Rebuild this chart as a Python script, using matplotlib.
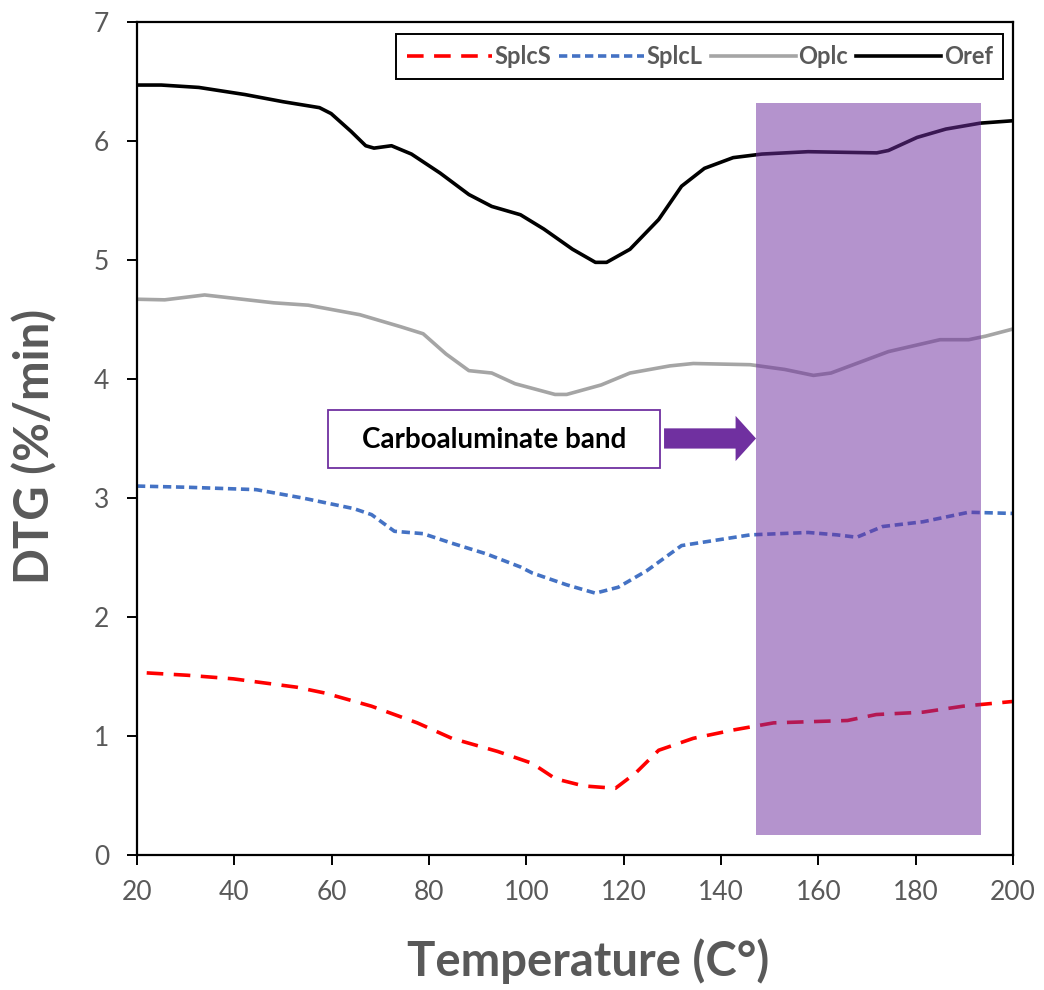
import matplotlib
matplotlib.use("Agg")
from matplotlib import pyplot as plt
from matplotlib.patches import Rectangle, FancyArrow

plt.rcParams['font.family'] = ['Lato', 'DejaVu Sans']

# Oref (black)
oref_x = [20, 25, 32.7, 42.2, 50, 57.5, 59.9, 64, 67, 68.7, 72.3, 76.4, 82.3, 88.2, 92.9, 98.8,
          103.6, 109.5, 114.2, 116.5, 121.3, 127.2, 131.9, 136.6, 142.5, 148.4, 157.9, 172, 174.4,
          180.3, 186.2, 193.3, 200]
oref_y = [6.47, 6.47, 6.45, 6.39, 6.33, 6.28, 6.23, 6.08, 5.96, 5.94, 5.96, 5.89, 5.73, 5.55, 5.45,
          5.38, 5.26, 5.09, 4.98, 4.98, 5.09, 5.34, 5.62, 5.77, 5.86, 5.89, 5.91, 5.90, 5.92,
          6.03, 6.10, 6.15, 6.17]

# Oplc (gray)
oplc_x = [20, 25.7, 33.9, 48.1, 55.2, 65.8, 74.1, 78.8, 83.5, 88.2, 92.9, 97.7, 105.9, 108.3,
          115.4, 121.3, 129.5, 134.3, 146, 153.1, 159, 162.6, 174.4, 185, 190.9, 194.4, 200]
oplc_y = [4.67, 4.665, 4.706, 4.64, 4.62, 4.54, 4.44, 4.38, 4.21, 4.07, 4.05, 3.96, 3.87, 3.87,
          3.95, 4.05, 4.11, 4.13, 4.12, 4.08, 4.03, 4.05, 4.23, 4.33, 4.33, 4.36, 4.42]

# SplcL (blue)
splcl_x = [20, 30.4, 44.5, 54, 64.6, 68.2, 72.9, 78.8, 84.7, 91.8, 98.8, 101.2, 108.3, 114.2,
           118.9, 124.8, 131.9, 136.6, 146, 157.9, 163.8, 167.9, 173.2, 181.5, 190.9, 200]
splcl_y = [3.10, 3.09, 3.07, 3.00, 2.91, 2.86, 2.72, 2.70, 2.62, 2.53, 2.42, 2.37, 2.27, 2.20,
           2.25, 2.39, 2.60, 2.63, 2.69, 2.71, 2.69, 2.67, 2.76, 2.80, 2.88, 2.87]

# SplcS (red)
splcs_x = [22, 30.4, 39.8, 52.8, 58.7, 68.2, 77.6, 84.7, 94.1, 101.2, 106, 111.8, 118.3, 122.5,
           127.2, 134.3, 142.5, 150.8, 166, 171.9, 181.5, 189.7, 200]
splcs_y = [1.53, 1.51, 1.48, 1.41, 1.36, 1.25, 1.11, 0.98, 0.87, 0.77, 0.64, 0.58, 0.56, 0.69,
           0.88, 0.98, 1.05, 1.11, 1.13, 1.18, 1.20, 1.25, 1.29]

band = (147.2, 193.4, 0.17, 6.32)  # x0, x1, y0, y1
grey = '#595959'
purple = '#7030A0'

fig = plt.figure(figsize=(10.44, 9.9), dpi=100)
ax = fig.add_axes([0.1312, 0.1364, 0.8391, 0.8414])

ax.plot(splcs_x, splcs_y, color='#FF0000', lw=2.6, dashes=(4.6, 2.9), label='SplcS')
ax.plot(splcl_x, splcl_y, color='#4472C4', lw=2.6, dashes=(2.3, 1.3), label='SplcL')
ax.plot(oplc_x, oplc_y, color='#A5A5A5', lw=2.6, label='Oplc')
ax.plot(oref_x, oref_y, color='black', lw=2.6, label='Oref')

ax.add_patch(Rectangle((band[0], band[2]), band[1] - band[0], band[3] - band[2],
                       facecolor=purple, alpha=0.52, lw=0, zorder=3))

# annotation box + arrow
ax.add_patch(Rectangle((59.2, 3.25), 68.3, 0.49, facecolor='white', edgecolor=purple,
                       lw=1.3, zorder=4))
ax.text(93.3, 3.49, 'Carboaluminate band', ha='center', va='center', fontsize=20,
        fontweight='bold', color='black', zorder=5)
ax.add_patch(FancyArrow(128.3, 3.5, 18.9, 0, width=0.17, head_width=0.38, head_length=4.2,
                        length_includes_head=True, color=purple, lw=0, zorder=4))

ax.set_xlim(20, 200)
ax.set_ylim(0, 7)
ax.set_xticks(range(20, 201, 20))
ax.set_yticks(range(0, 8))
ax.tick_params(direction='out', length=7, width=1.4, labelsize=19, labelcolor=grey)
ax.tick_params(axis='x', pad=11)
ax.tick_params(axis='y', pad=13)
for s in ax.spines.values():
    s.set_linewidth(1.6)
    s.set_color('black')

ax.set_xlabel('Temperature (C°)', fontsize=34, fontweight='bold', color=grey, va='center')
ax.set_ylabel('DTG (%/min)', fontsize=34, fontweight='bold', color=grey, va='center')
ax.xaxis.set_label_coords(0.515, -0.128)
ax.yaxis.set_label_coords(-0.117, 0.49)

leg = ax.legend(loc='upper right', ncol=4, bbox_to_anchor=(0.989, 0.985),
                prop={'weight': 'bold', 'size': 17}, handlelength=3.6, handletextpad=0.1,
                columnspacing=0.35, borderpad=0.45, fancybox=False, framealpha=1, borderaxespad=0)
leg.get_frame().set_edgecolor('black')
leg.get_frame().set_linewidth(1.4)
for t in leg.get_texts():
    t.set_color(grey)
leg.set_zorder(6)

fig.savefig('out.png', dpi=100)
